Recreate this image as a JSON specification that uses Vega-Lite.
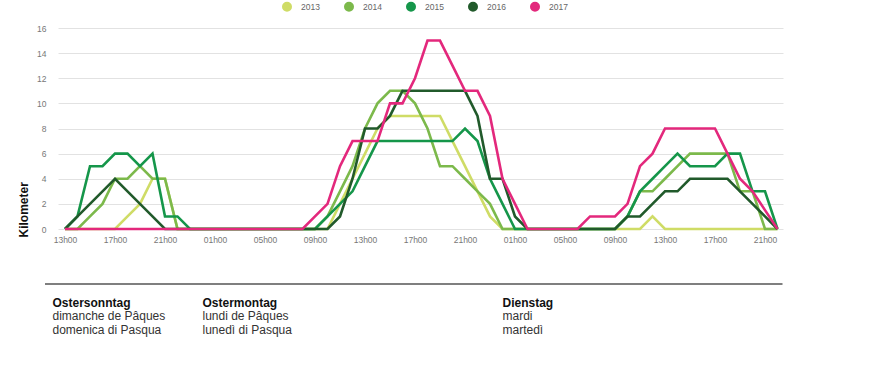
{
  "$schema": "https://vega.github.io/schema/vega-lite/v6.json",
  "width": 725,
  "height": 201,
  "autosize": {"type": "none"},
  "padding": {"left": 58, "top": 28, "right": 90, "bottom": 147},
  "background": "white",
  "config": {"view": {"stroke": null}, "font": "Liberation Sans"},
  "datasets": {
    "days": [
      {"hour": -1, "row": 0, "label": "Ostersonntag"},
      {"hour": -1, "row": 1, "label": "dimanche de Pâques"},
      {"hour": -1, "row": 2, "label": "domenica di Pasqua"},
      {"hour": 11, "row": 0, "label": "Ostermontag"},
      {"hour": 11, "row": 1, "label": "lundi de Pâques"},
      {"hour": 11, "row": 2, "label": "lunedì di Pasqua"},
      {"hour": 35, "row": 0, "label": "Dienstag"},
      {"hour": 35, "row": 1, "label": "mardi"},
      {"hour": 35, "row": 2, "label": "martedì"}
    ]
  },
  "layer": [
    {
      "data": {"values": [
        {"year":"2013","hour":0,"km":0},{"year":"2013","hour":1,"km":0},{"year":"2013","hour":2,"km":0},{"year":"2013","hour":3,"km":0},{"year":"2013","hour":4,"km":0},{"year":"2013","hour":5,"km":1},{"year":"2013","hour":6,"km":2},{"year":"2013","hour":7,"km":4},{"year":"2013","hour":8,"km":4},{"year":"2013","hour":9,"km":0},
        {"year":"2013","hour":10,"km":0},{"year":"2013","hour":11,"km":0},{"year":"2013","hour":12,"km":0},{"year":"2013","hour":13,"km":0},{"year":"2013","hour":14,"km":0},{"year":"2013","hour":15,"km":0},{"year":"2013","hour":16,"km":0},{"year":"2013","hour":17,"km":0},{"year":"2013","hour":18,"km":0},{"year":"2013","hour":19,"km":0},
        {"year":"2013","hour":20,"km":0},{"year":"2013","hour":21,"km":0},{"year":"2013","hour":22,"km":2},{"year":"2013","hour":23,"km":4},{"year":"2013","hour":24,"km":6},{"year":"2013","hour":25,"km":8},{"year":"2013","hour":26,"km":9},{"year":"2013","hour":27,"km":9},{"year":"2013","hour":28,"km":9},{"year":"2013","hour":29,"km":9},
        {"year":"2013","hour":30,"km":9},{"year":"2013","hour":31,"km":7},{"year":"2013","hour":32,"km":5},{"year":"2013","hour":33,"km":3},{"year":"2013","hour":34,"km":1},{"year":"2013","hour":35,"km":0},{"year":"2013","hour":36,"km":0},{"year":"2013","hour":37,"km":0},{"year":"2013","hour":38,"km":0},{"year":"2013","hour":39,"km":0},
        {"year":"2013","hour":40,"km":0},{"year":"2013","hour":41,"km":0},{"year":"2013","hour":42,"km":0},{"year":"2013","hour":43,"km":0},{"year":"2013","hour":44,"km":0},{"year":"2013","hour":45,"km":0},{"year":"2013","hour":46,"km":0},{"year":"2013","hour":47,"km":1},{"year":"2013","hour":48,"km":0},{"year":"2013","hour":49,"km":0},
        {"year":"2013","hour":50,"km":0},{"year":"2013","hour":51,"km":0},{"year":"2013","hour":52,"km":0},{"year":"2013","hour":53,"km":0},{"year":"2013","hour":54,"km":0},{"year":"2013","hour":55,"km":0},{"year":"2013","hour":56,"km":0},{"year":"2013","hour":57,"km":0},

        {"year":"2014","hour":0,"km":0},{"year":"2014","hour":1,"km":0},{"year":"2014","hour":2,"km":1},{"year":"2014","hour":3,"km":2},{"year":"2014","hour":4,"km":4},{"year":"2014","hour":5,"km":4},{"year":"2014","hour":6,"km":5},{"year":"2014","hour":7,"km":4},{"year":"2014","hour":8,"km":4},{"year":"2014","hour":9,"km":0},
        {"year":"2014","hour":10,"km":0},{"year":"2014","hour":11,"km":0},{"year":"2014","hour":12,"km":0},{"year":"2014","hour":13,"km":0},{"year":"2014","hour":14,"km":0},{"year":"2014","hour":15,"km":0},{"year":"2014","hour":16,"km":0},{"year":"2014","hour":17,"km":0},{"year":"2014","hour":18,"km":0},{"year":"2014","hour":19,"km":0},
        {"year":"2014","hour":20,"km":0},{"year":"2014","hour":21,"km":1},{"year":"2014","hour":22,"km":3},{"year":"2014","hour":23,"km":5},{"year":"2014","hour":24,"km":8},{"year":"2014","hour":25,"km":10},{"year":"2014","hour":26,"km":11},{"year":"2014","hour":27,"km":11},{"year":"2014","hour":28,"km":10},{"year":"2014","hour":29,"km":8},
        {"year":"2014","hour":30,"km":5},{"year":"2014","hour":31,"km":5},{"year":"2014","hour":32,"km":4},{"year":"2014","hour":33,"km":3},{"year":"2014","hour":34,"km":2},{"year":"2014","hour":35,"km":0},{"year":"2014","hour":36,"km":0},{"year":"2014","hour":37,"km":0},{"year":"2014","hour":38,"km":0},{"year":"2014","hour":39,"km":0},
        {"year":"2014","hour":40,"km":0},{"year":"2014","hour":41,"km":0},{"year":"2014","hour":42,"km":0},{"year":"2014","hour":43,"km":0},{"year":"2014","hour":44,"km":0},{"year":"2014","hour":45,"km":1},{"year":"2014","hour":46,"km":3},{"year":"2014","hour":47,"km":3},{"year":"2014","hour":48,"km":4},{"year":"2014","hour":49,"km":5},
        {"year":"2014","hour":50,"km":6},{"year":"2014","hour":51,"km":6},{"year":"2014","hour":52,"km":6},{"year":"2014","hour":53,"km":6},{"year":"2014","hour":54,"km":3},{"year":"2014","hour":55,"km":3},{"year":"2014","hour":56,"km":0},{"year":"2014","hour":57,"km":0},

        {"year":"2015","hour":0,"km":0},{"year":"2015","hour":1,"km":1},{"year":"2015","hour":2,"km":5},{"year":"2015","hour":3,"km":5},{"year":"2015","hour":4,"km":6},{"year":"2015","hour":5,"km":6},{"year":"2015","hour":6,"km":5},{"year":"2015","hour":7,"km":6},{"year":"2015","hour":8,"km":1},{"year":"2015","hour":9,"km":1},
        {"year":"2015","hour":10,"km":0},{"year":"2015","hour":11,"km":0},{"year":"2015","hour":12,"km":0},{"year":"2015","hour":13,"km":0},{"year":"2015","hour":14,"km":0},{"year":"2015","hour":15,"km":0},{"year":"2015","hour":16,"km":0},{"year":"2015","hour":17,"km":0},{"year":"2015","hour":18,"km":0},{"year":"2015","hour":19,"km":0},
        {"year":"2015","hour":20,"km":0},{"year":"2015","hour":21,"km":1},{"year":"2015","hour":22,"km":2},{"year":"2015","hour":23,"km":3},{"year":"2015","hour":24,"km":5},{"year":"2015","hour":25,"km":7},{"year":"2015","hour":26,"km":7},{"year":"2015","hour":27,"km":7},{"year":"2015","hour":28,"km":7},{"year":"2015","hour":29,"km":7},
        {"year":"2015","hour":30,"km":7},{"year":"2015","hour":31,"km":7},{"year":"2015","hour":32,"km":8},{"year":"2015","hour":33,"km":7},{"year":"2015","hour":34,"km":4},{"year":"2015","hour":35,"km":2},{"year":"2015","hour":36,"km":0},{"year":"2015","hour":37,"km":0},{"year":"2015","hour":38,"km":0},{"year":"2015","hour":39,"km":0},
        {"year":"2015","hour":40,"km":0},{"year":"2015","hour":41,"km":0},{"year":"2015","hour":42,"km":0},{"year":"2015","hour":43,"km":0},{"year":"2015","hour":44,"km":0},{"year":"2015","hour":45,"km":1},{"year":"2015","hour":46,"km":3},{"year":"2015","hour":47,"km":4},{"year":"2015","hour":48,"km":5},{"year":"2015","hour":49,"km":6},
        {"year":"2015","hour":50,"km":5},{"year":"2015","hour":51,"km":5},{"year":"2015","hour":52,"km":5},{"year":"2015","hour":53,"km":6},{"year":"2015","hour":54,"km":6},{"year":"2015","hour":55,"km":3},{"year":"2015","hour":56,"km":3},{"year":"2015","hour":57,"km":0},

        {"year":"2016","hour":0,"km":0},{"year":"2016","hour":1,"km":1},{"year":"2016","hour":2,"km":2},{"year":"2016","hour":3,"km":3},{"year":"2016","hour":4,"km":4},{"year":"2016","hour":5,"km":3},{"year":"2016","hour":6,"km":2},{"year":"2016","hour":7,"km":1},{"year":"2016","hour":8,"km":0},{"year":"2016","hour":9,"km":0},
        {"year":"2016","hour":10,"km":0},{"year":"2016","hour":11,"km":0},{"year":"2016","hour":12,"km":0},{"year":"2016","hour":13,"km":0},{"year":"2016","hour":14,"km":0},{"year":"2016","hour":15,"km":0},{"year":"2016","hour":16,"km":0},{"year":"2016","hour":17,"km":0},{"year":"2016","hour":18,"km":0},{"year":"2016","hour":19,"km":0},
        {"year":"2016","hour":20,"km":0},{"year":"2016","hour":21,"km":0},{"year":"2016","hour":22,"km":1},{"year":"2016","hour":23,"km":4},{"year":"2016","hour":24,"km":8},{"year":"2016","hour":25,"km":8},{"year":"2016","hour":26,"km":9},{"year":"2016","hour":27,"km":11},{"year":"2016","hour":28,"km":11},{"year":"2016","hour":29,"km":11},
        {"year":"2016","hour":30,"km":11},{"year":"2016","hour":31,"km":11},{"year":"2016","hour":32,"km":11},{"year":"2016","hour":33,"km":9},{"year":"2016","hour":34,"km":4},{"year":"2016","hour":35,"km":4},{"year":"2016","hour":36,"km":1},{"year":"2016","hour":37,"km":0},{"year":"2016","hour":38,"km":0},{"year":"2016","hour":39,"km":0},
        {"year":"2016","hour":40,"km":0},{"year":"2016","hour":41,"km":0},{"year":"2016","hour":42,"km":0},{"year":"2016","hour":43,"km":0},{"year":"2016","hour":44,"km":0},{"year":"2016","hour":45,"km":1},{"year":"2016","hour":46,"km":1},{"year":"2016","hour":47,"km":2},{"year":"2016","hour":48,"km":3},{"year":"2016","hour":49,"km":3},
        {"year":"2016","hour":50,"km":4},{"year":"2016","hour":51,"km":4},{"year":"2016","hour":52,"km":4},{"year":"2016","hour":53,"km":4},{"year":"2016","hour":54,"km":3},{"year":"2016","hour":55,"km":2},{"year":"2016","hour":56,"km":1},{"year":"2016","hour":57,"km":0},

        {"year":"2017","hour":0,"km":0},{"year":"2017","hour":1,"km":0},{"year":"2017","hour":2,"km":0},{"year":"2017","hour":3,"km":0},{"year":"2017","hour":4,"km":0},{"year":"2017","hour":5,"km":0},{"year":"2017","hour":6,"km":0},{"year":"2017","hour":7,"km":0},{"year":"2017","hour":8,"km":0},{"year":"2017","hour":9,"km":0},
        {"year":"2017","hour":10,"km":0},{"year":"2017","hour":11,"km":0},{"year":"2017","hour":12,"km":0},{"year":"2017","hour":13,"km":0},{"year":"2017","hour":14,"km":0},{"year":"2017","hour":15,"km":0},{"year":"2017","hour":16,"km":0},{"year":"2017","hour":17,"km":0},{"year":"2017","hour":18,"km":0},{"year":"2017","hour":19,"km":0},
        {"year":"2017","hour":20,"km":1},{"year":"2017","hour":21,"km":2},{"year":"2017","hour":22,"km":5},{"year":"2017","hour":23,"km":7},{"year":"2017","hour":24,"km":7},{"year":"2017","hour":25,"km":7},{"year":"2017","hour":26,"km":10},{"year":"2017","hour":27,"km":10},{"year":"2017","hour":28,"km":12},{"year":"2017","hour":29,"km":15},
        {"year":"2017","hour":30,"km":15},{"year":"2017","hour":31,"km":13},{"year":"2017","hour":32,"km":11},{"year":"2017","hour":33,"km":11},{"year":"2017","hour":34,"km":9},{"year":"2017","hour":35,"km":4},{"year":"2017","hour":36,"km":2},{"year":"2017","hour":37,"km":0},{"year":"2017","hour":38,"km":0},{"year":"2017","hour":39,"km":0},
        {"year":"2017","hour":40,"km":0},{"year":"2017","hour":41,"km":0},{"year":"2017","hour":42,"km":1},{"year":"2017","hour":43,"km":1},{"year":"2017","hour":44,"km":1},{"year":"2017","hour":45,"km":2},{"year":"2017","hour":46,"km":5},{"year":"2017","hour":47,"km":6},{"year":"2017","hour":48,"km":8},{"year":"2017","hour":49,"km":8},
        {"year":"2017","hour":50,"km":8},{"year":"2017","hour":51,"km":8},{"year":"2017","hour":52,"km":8},{"year":"2017","hour":53,"km":6},{"year":"2017","hour":54,"km":4},{"year":"2017","hour":55,"km":3},{"year":"2017","hour":56,"km":1.5},{"year":"2017","hour":57,"km":0}
      ]},
      "mark": {"type": "line", "strokeWidth": 2.6, "strokeJoin": "miter"},
      "encoding": {
        "x": {
          "field": "hour", "type": "quantitative",
          "scale": {"domain": [-0.56, 57.44], "nice": false, "zero": false},
          "axis": {
            "values": [0,4,8,12,16,20,24,28,32,36,40,44,48,52,56],
            "labelExpr": "(((13+datum.value)%24)<10?'0':'')+((13+datum.value)%24)+'h00'",
            "grid": false, "domain": false, "ticks": false,
            "labelPadding": 6, "labelFontSize": 8.5, "labelColor": "#777777",
            "labelFont": "Liberation Sans Narrow, Liberation Sans, sans-serif",
            "title": null
          }
        },
        "y": {
          "field": "km", "type": "quantitative",
          "scale": {"domain": [0, 16], "nice": false},
          "axis": {
            "values": [0,2,4,6,8,10,12,14,16],
            "grid": true, "gridColor": "#e2e2e2", "gridWidth": 1,
            "domain": false, "ticks": false,
            "labelPadding": 12, "labelFontSize": 8.5, "labelColor": "#777777",
            "title": "Kilometer", "titleFontSize": 12, "titleFontWeight": "bold", "titleColor": "#111111",
            "titleAngle": 270, "titleAlign": "left", "titleBaseline": "middle",
            "titleX": -35, "titleY": 209
          }
        },
        "color": {
          "field": "year", "type": "nominal",
          "scale": {"domain": ["2013","2014","2015","2016","2017"], "range": ["#cfdc66","#7cb94b","#15964a","#215a2b","#e3287c"]},
          "legend": {
            "orient": "none", "direction": "horizontal", "legendX": 224, "legendY": -26.5,
            "title": null, "padding": 0,
            "symbolType": "circle", "symbolSize": 25, "symbolStrokeWidth": 5, "symbolOpacity": 1,
            "labelFontSize": 8.5, "labelColor": "#666666", "labelOffset": 9, "columnPadding": 16
          }
        }
      }
    },
    {
      "data": {"values": [{"from": -1.6, "to": 57.4, "row": -1.4}]},
      "mark": {"type": "rule", "color": "#555555", "strokeWidth": 1.6},
      "encoding": {
        "x": {"field": "from", "type": "quantitative"},
        "x2": {"field": "to"},
        "y": {"field": "row", "type": "quantitative", "scale": {"domain": [-1.4, 2], "range": [256, 302], "nice": false, "zero": false}, "axis": null}
      }
    },
    {
      "data": {"name": "days"},
      "transform": [{"filter": "datum.row == 0"}],
      "mark": {"type": "text", "align": "left", "baseline": "middle", "fontSize": 12, "fontWeight": "bold", "color": "#111111"},
      "encoding": {
        "x": {"field": "hour", "type": "quantitative"},
        "y": {"field": "row", "type": "quantitative", "scale": {"domain": [-1.4, 2], "range": [256, 302], "nice": false, "zero": false}, "axis": null},
        "text": {"field": "label"}
      }
    },
    {
      "data": {"name": "days"},
      "transform": [{"filter": "datum.row > 0"}],
      "mark": {"type": "text", "align": "left", "baseline": "middle", "fontSize": 12, "color": "#333333"},
      "encoding": {
        "x": {"field": "hour", "type": "quantitative"},
        "y": {"field": "row", "type": "quantitative", "scale": {"domain": [-1.4, 2], "range": [256, 302], "nice": false, "zero": false}, "axis": null},
        "text": {"field": "label"}
      }
    }
  ],
  "resolve": {"scale": {"y": "independent"}}
}
